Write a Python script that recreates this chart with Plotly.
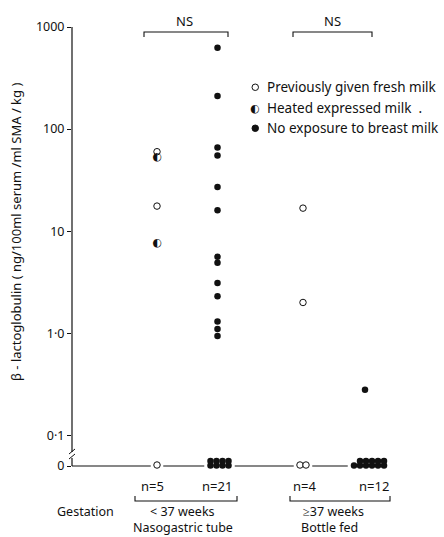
import math
import numpy as np
import plotly.graph_objects as go

# ---------------- data ----------------
# beta-lactoglobulin (ng/100ml serum / ml SMA / kg); 0 = undetectable
GROUPS = ["< 37 weeks", "\u226537 weeks"]
FEEDING = ["Nasogastric tube", "Bottle fed"]
N_LABELS = ["n=5", "n=21", "n=4", "n=12"]
SIGNIF = ["NS", "NS"]

# column 1: <37 weeks, previously given fresh / heated expressed milk
ng_fresh = [60, 17.6, 0]
ng_heated = [53, 7.6]
# column 2: <37 weeks, no exposure to breast milk
ng_none = [627, 211, 66, 55, 27, 16, 5.6, 4.9, 3.1, 2.3, 1.3, 1.1, 0.94,
           0, 0, 0, 0, 0, 0, 0, 0]
# column 3: >=37 weeks, previously given fresh milk
bf_fresh = [16.8, 2.0, 0, 0]
# column 4: >=37 weeks, no exposure to breast milk
bf_none = [0.28, 0, 0, 0, 0, 0, 0, 0, 0, 0, 0, 0]

LEGEND = ["Previously given fresh milk", "Heated expressed milk  .",
          "No exposure to breast milk"]
Y_TICK_VALUES = [1000, 100, 10, 1, 0.1]
Y_TICK_TEXT = ["1000", "100", "10", "1\u00b70", "0\u00b71"]
ZERO_TEXT = "0"
Y_TITLE = "\u03b2 - lactoglobulin ( ng/100ml serum /ml SMA / kg )"

# ---------------- layout helpers ----------------
W, H = 444, 537
L, R, T, B = 72, 0, 27, 71
PW, PH = W - L - R, H - T - B
ZERO_POS = 0.05                     # where "0" sits on the broken log axis
Y_TOP = 3
DEC_PX = PH / (Y_TOP - math.log10(ZERO_POS))
COL_X = [0, 1, 2.413, 3.438]
UNIT_PX = 60.5
X0 = -(157 - L) / UNIT_PX
X1 = X0 + PW / UNIT_PX
DOT = 6.5
FONT = "Noto Sans"
BLACK = "#111"


def px_x(px):
    return (px - L) / PW


def px_y(py):
    return (H - B - py) / PH


def lift(px):
    return ZERO_POS * 10 ** (px / DEC_PX)


def zero_cluster(n, cx, rows, shift_px=0.0, gap=6.0):
    xs, ys = [], []
    if n == 0:
        return xs, ys
    if rows == 1:
        for i in range(n):
            xs.append(cx + ((i - (n - 1) / 2) * gap + shift_px) / UNIT_PX)
            ys.append(lift(1))
        return xs, ys
    ncols = math.ceil(n / 2)
    single_first = n % 2 == 1
    for c in range(ncols):
        x = cx + ((c - (ncols - 1) / 2) * gap + shift_px) / UNIT_PX
        nr = 1 if (single_first and c == 0) else 2
        for r in range(nr):
            xs.append(x)
            ys.append(lift([0.5, 5][r]))
    return xs, ys


def split(vals):
    nz = [v for v in vals if v > 0]
    return nz, len(vals) - len(nz)


fig = go.Figure()
open_m = dict(symbol="circle", size=DOT, color="white", line=dict(color=BLACK, width=1))
fill_m = dict(symbol="circle", size=DOT, color=BLACK, line=dict(color=BLACK, width=0))

gaps = []


def add_open(vals, cx, shift=0.0):
    nz, nzero = split(vals)
    zx, zy = zero_cluster(nzero, cx, 1, shift)
    xs = [cx] * len(nz) + zx
    ys = nz + zy
    if zx:
        gaps.append((min(zx), max(zx)))
    fig.add_trace(go.Scatter(x=xs, y=ys, mode="markers", marker=open_m,
                             cliponaxis=False, showlegend=False, hoverinfo="y"))


def add_filled(vals, cx, shift=0.0):
    nz, nzero = split(vals)
    zx, zy = zero_cluster(nzero, cx, 2, shift)
    xs = [cx] * len(nz) + zx
    ys = nz + zy
    if zx:
        gaps.append((min(zx), max(zx)))
    fig.add_trace(go.Scatter(x=xs, y=ys, mode="markers", marker=fill_m,
                             cliponaxis=False, showlegend=False, hoverinfo="y"))


def add_half(vals, cx):
    fig.add_trace(go.Scatter(x=[cx] * len(vals), y=vals, mode="text",
                             text=["\u25d0"] * len(vals),
                             textfont=dict(family="DejaVu Sans", size=11, color=BLACK),
                             cliponaxis=False, showlegend=False, hoverinfo="y"))


add_open(ng_fresh, COL_X[0])
add_half(ng_heated, COL_X[0])
add_filled(ng_none, COL_X[1], 2)
add_open(bf_fresh, COL_X[2])
add_filled(bf_none, COL_X[3], 4)

shapes = []
line = dict(color=BLACK, width=1.2)
# baseline at zero with gaps around the zero clusters
margin_u = (DOT / 2 + 3) / UNIT_PX
start = X0
for g0, g1 in gaps:
    shapes.append(dict(type="line", xref="x", yref="paper", x0=start, x1=g0 - margin_u,
                       y0=0, y1=0, line=line))
    start = g1 + margin_u
# broken y axis
shapes.append(dict(type="line", xref="paper", yref="paper", x0=0, x1=0,
                   y0=px_y(452), y1=1, line=line))
shapes.append(dict(type="line", xref="paper", yref="paper", x0=0, x1=0,
                   y0=0, y1=px_y(458), line=line))
for yy in (451, 456):
    shapes.append(dict(type="line", xref="paper", yref="paper", x0=px_x(69), x1=px_x(75),
                       y0=px_y(yy + 3), y1=px_y(yy - 2), line=dict(color=BLACK, width=1)))


# brackets
def bracket(x0, x1, y, dy):
    shapes.append(dict(type="path", xref="paper", yref="paper",
                       path=f"M {px_x(x0)},{px_y(y + dy)} L {px_x(x0)},{px_y(y)} "
                            f"L {px_x(x1)},{px_y(y)} L {px_x(x1)},{px_y(y + dy)}",
                       line=dict(color=BLACK, width=1.1)))


bracket(144, 228, 32, 5)
bracket(293, 372, 32, 5)
bracket(135, 237, 501, -5)
bracket(290, 390, 501, -5)

ann = []


def text(s, x, y, size=13, anchor="center", angle=0):
    ann.append(dict(text=s, xref="paper", yref="paper", x=px_x(x), y=px_y(y),
                    xanchor=anchor, yanchor="middle", showarrow=False, textangle=angle,
                    font=dict(family=FONT, size=size, color=BLACK)))


text(SIGNIF[0], 184, 21)
text(SIGNIF[1], 332, 21)
for s, x in zip(N_LABELS, [152, 217, 304, 374]):
    text(s, x, 486)
text("Gestation", 85, 511, size=12.5)
text(GROUPS[0], 182, 511, size=12.5)
text(GROUPS[1], 333, 511, size=12.5)
text(FEEDING[0], 183, 527.5, size=12.5)
text(FEEDING[1], 329, 527.5, size=12.5)
text(Y_TITLE, 16, 232, size=13, angle=-90)

# legend
for i, (lbl, yy) in enumerate(zip(LEGEND, [87, 108, 128])):
    text(lbl, 265, yy, size=13.5, anchor="left")
shapes.append(dict(type="circle", xref="paper", yref="paper",
                   x0=px_x(252), x1=px_x(258.5), y0=px_y(90.5), y1=px_y(84),
                   fillcolor="white", line=dict(color=BLACK, width=1)))
shapes.append(dict(type="circle", xref="paper", yref="paper",
                   x0=px_x(252), x1=px_x(258.5), y0=px_y(131.5), y1=px_y(125),
                   fillcolor=BLACK, line=dict(color=BLACK, width=1)))
ann.append(dict(text="\u25d0", xref="paper", yref="paper", x=px_x(255), y=px_y(108),
                xanchor="center", yanchor="middle", showarrow=False,
                font=dict(family="DejaVu Sans", size=11, color=BLACK)))

fig.update_layout(
    width=W, height=H, margin=dict(l=L, r=R, t=T, b=B, pad=0),
    paper_bgcolor="white", plot_bgcolor="white",
    shapes=shapes, annotations=ann, showlegend=False,
    xaxis=dict(range=[X0, X1], visible=False, fixedrange=True),
    yaxis=dict(type="log", range=[math.log10(ZERO_POS), Y_TOP],
               tickvals=Y_TICK_VALUES + [ZERO_POS], ticktext=Y_TICK_TEXT + [ZERO_TEXT],
               ticks="outside", ticklen=4, tickcolor=BLACK, tickwidth=1,
               showline=False, showgrid=False, zeroline=False,
               tickfont=dict(family=FONT, size=12.5, color=BLACK), fixedrange=True),
)
fig.write_html("out.html")
